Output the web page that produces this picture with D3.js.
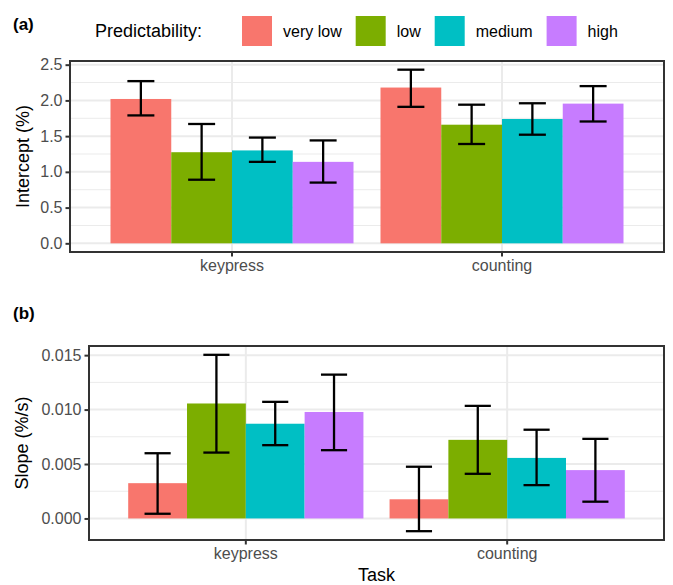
<!DOCTYPE html>
<html>
<head>
<meta charset="utf-8">
<script src="https://cdn.jsdelivr.net/npm/d3@7"></script>
<style>
  body { margin: 0; background: #fff; }
  text { font-family: "Liberation Sans", Arial, sans-serif; }
</style>
</head>
<body>
<svg id="fig" width="673" height="585"></svg>
<script>
// categories
var tasks = ["keypress", "counting"];
var levels = ["very low", "low", "medium", "high"];
var colors = ["#F8766D", "#7CAE00", "#00BFC4", "#C77CFF"];

// (a) intercept (%), one row per task, one value per predictability level
var interceptMean = [[2.02, 1.275, 1.30, 1.14], [2.18, 1.66, 1.74, 1.955]];
var interceptLo   = [[1.79, 0.89, 1.14, 0.85], [1.91, 1.39, 1.52, 1.705]];
var interceptHi   = [[2.27, 1.67, 1.48, 1.44], [2.43, 1.94, 1.96, 2.20]];
var interceptTicks = [0, 0.5, 1.0, 1.5, 2.0, 2.5];

// (b) slope (%/s)
var slopeMean = [[0.00324, 0.01056, 0.0087, 0.00978], [0.00176, 0.00722, 0.00556, 0.00444]];
var slopeLo   = [[0.00043, 0.00605, 0.00673, 0.00627], [-0.00117, 0.0041, 0.00306, 0.00154]];
var slopeHi   = [[0.00599, 0.01503, 0.01071, 0.01321], [0.00475, 0.01034, 0.00815, 0.00731]];
var slopeTicks = [0, 0.005, 0.010, 0.015];

var svg = d3.select("#fig");
svg.append("rect").attr("width", 673).attr("height", 585).attr("fill", "#fff");

function panel(opt) {
    var g = svg.append("g");
    var left = opt.left, right = 664, top = opt.top, bottom = opt.bottom;

    var rows = [];
    tasks.forEach(function(t, i) {
        levels.forEach(function(l, j) {
            rows.push({task: t, level: l, k: j, mean: opt.mean[i][j], lo: opt.lo[i][j], hi: opt.hi[i][j]});
        });
    });

    // ggplot style 5% expansion of the data range (bars start at 0)
    var lo = Math.min(0, d3.min(rows, d => d.lo)), hi = d3.max(rows, d => d.hi);
    var pad = 0.05 * (hi - lo);
    var y = d3.scaleLinear().domain([lo - pad, hi + pad]).range([bottom, top]);

    var x0 = d3.scaleBand().domain(tasks).range([left, right]).paddingInner(0.1).paddingOuter(0.15);
    var x1 = d3.scaleBand().domain(levels).range([0, x0.bandwidth()]);
    var step = x0.step();

    // grid
    var ticks = opt.ticks;
    var minor = d3.pairs(ticks).map(p => (p[0] + p[1]) / 2);
    g.selectAll(".minor").data(minor).enter().append("line")
        .attr("x1", left).attr("x2", right)
        .attr("y1", d => y(d)).attr("y2", d => y(d))
        .attr("stroke", "#EBEBEB").attr("stroke-width", 1);
    g.selectAll(".major").data(ticks).enter().append("line")
        .attr("x1", left).attr("x2", right)
        .attr("y1", d => y(d)).attr("y2", d => y(d))
        .attr("stroke", "#EBEBEB").attr("stroke-width", 2);
    g.selectAll(".vmajor").data(tasks).enter().append("line")
        .attr("x1", d => x0(d) + x0.bandwidth() / 2).attr("x2", d => x0(d) + x0.bandwidth() / 2)
        .attr("y1", top).attr("y2", bottom)
        .attr("stroke", "#EBEBEB").attr("stroke-width", 2);

    // bars
    g.selectAll(".bar").data(rows).enter().append("rect")
        .attr("x", d => x0(d.task) + x1(d.level))
        .attr("width", x1.bandwidth())
        .attr("y", d => Math.min(y(d.mean), y(0)))
        .attr("height", d => Math.abs(y(0) - y(d.mean)))
        .attr("fill", d => colors[d.k]);

    // error bars
    var half = 0.05 * step;
    var eb = g.selectAll(".eb").data(rows).enter().append("g")
        .attr("transform", d => "translate(" + (x0(d.task) + x1(d.level) + x1.bandwidth() / 2) + ",0)");
    eb.append("line").attr("x1", 0).attr("x2", 0)
        .attr("y1", d => y(d.lo)).attr("y2", d => y(d.hi));
    eb.append("line").attr("x1", -half).attr("x2", half)
        .attr("y1", d => y(d.lo)).attr("y2", d => y(d.lo));
    eb.append("line").attr("x1", -half).attr("x2", half)
        .attr("y1", d => y(d.hi)).attr("y2", d => y(d.hi));
    eb.selectAll("line").attr("stroke", "#000").attr("stroke-width", 2.3);

    // border
    g.append("rect").attr("x", left).attr("y", top)
        .attr("width", right - left).attr("height", bottom - top)
        .attr("fill", "none").attr("stroke", "#333333").attr("stroke-width", 2);

    // y axis
    var ya = g.append("g").attr("transform", "translate(" + (left - 1) + ",0)")
        .call(d3.axisLeft(y).tickValues(ticks).tickFormat(d3.format(opt.fmt)).tickSize(3.5).tickPadding(3));
    ya.select(".domain").remove();
    ya.selectAll(".tick line").attr("stroke", "#333333").attr("stroke-width", 2);
    ya.selectAll("text").attr("fill", "#4D4D4D").style("font-size", "16px")
        .style("font-family", "Liberation Sans, Arial, sans-serif");

    // x axis
    var xa = g.append("g").attr("transform", "translate(0," + (bottom + 1) + ")")
        .call(d3.axisBottom(x0).tickSize(3.5).tickPadding(3));
    xa.select(".domain").remove();
    xa.selectAll(".tick line").attr("stroke", "#333333").attr("stroke-width", 2);
    xa.selectAll("text").attr("fill", "#4D4D4D").style("font-size", "16px")
        .style("font-family", "Liberation Sans, Arial, sans-serif");

    // y title
    svg.append("text")
        .attr("transform", "translate(" + opt.titleX + "," + ((top + bottom) / 2) + ") rotate(-90)")
        .attr("text-anchor", "middle").style("font-size", "18px").attr("fill", "#000")
        .text(opt.title);

    // panel tag
    svg.append("text").attr("x", 13).attr("y", opt.tagY)
        .style("font-size", "17px").style("font-weight", "bold").text(opt.tag);

    return {left: left, right: right, bottom: bottom};
}

panel({left: 70, top: 61, bottom: 252, mean: interceptMean, lo: interceptLo, hi: interceptHi,
       ticks: interceptTicks, fmt: ".1f", title: "Intercept (%)", titleX: 29, tag: "(a)", tagY: 30});
var pb = panel({left: 89, top: 346, bottom: 540, mean: slopeMean, lo: slopeLo, hi: slopeHi,
       ticks: slopeTicks, fmt: ".3f", title: "Slope (%/s)", titleX: 28, tag: "(b)", tagY: 319});

svg.append("text").attr("x", (pb.left + pb.right) / 2).attr("y", 581)
    .attr("text-anchor", "middle").style("font-size", "18px").text("Task");

// legend
var leg = svg.append("g");
leg.append("text").attr("x", 95).attr("y", 37).style("font-size", "18px").text("Predictability:");
var kx = 242;
levels.forEach(function(l, j) {
    leg.append("rect").attr("x", kx).attr("y", 16).attr("width", 30).attr("height", 30).attr("fill", colors[j]);
    var t = leg.append("text").attr("x", kx + 41).attr("y", 37).style("font-size", "16px").text(l);
    kx = kx + 41 + t.node().getComputedTextLength() + 14;
});
</script>
</body>
</html>
